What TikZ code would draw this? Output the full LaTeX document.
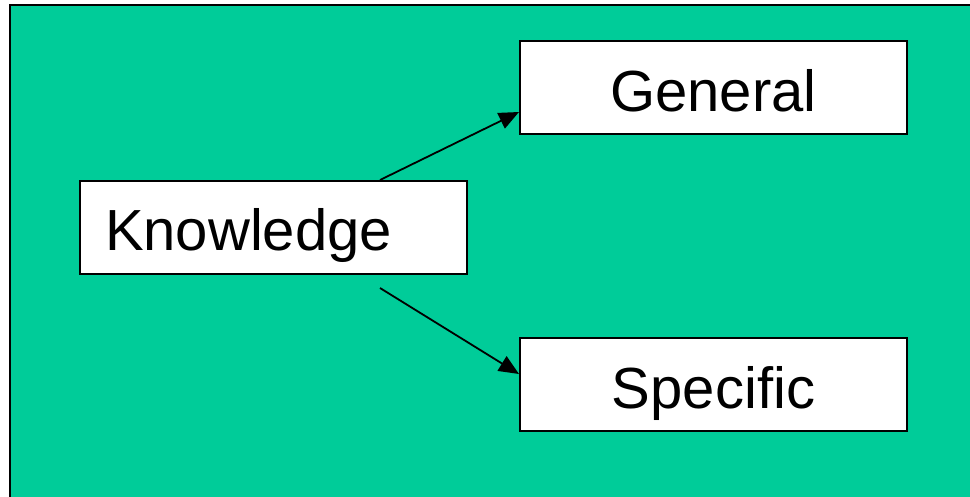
\documentclass[tikz,border=0pt]{standalone}
\usepackage{fontspec}
\setmainfont{Liberation Sans}
\usetikzlibrary{arrows.meta,calc}
\definecolor{panelgreen}{RGB}{0,204,153}
\tikzset{
  box/.style={draw=black, line width=2pt, fill=white,
    font=\fontsize{58pt}{60pt}\selectfont, inner sep=0pt,
    text height=71pt, text depth=22pt},
  centerbox/.style={box, minimum width=387pt},
  leftbox/.style={box, text width=337pt, inner xsep=25pt, align=left,
    text height=69pt, text depth=24pt},
  arr/.style={line width=1.8pt, -{Triangle[length=20pt, width=17pt]}}
}
\begin{document}
\begin{tikzpicture}[x=1pt, y=-1pt]
  \useasboundingbox (0,0) rectangle (970,496);
  % green panel running off the right and bottom edges
  \begin{scope}
    \clip (0,0) rectangle (970,496);
    \draw[line width=2pt, fill=panelgreen] (10,5) rectangle (990,520);
  \end{scope}
  \node[leftbox] (k) at (273.5,227.5) {Knowledge};
  \node[centerbox] (g) at (713.5,87) {General};
  \node[centerbox] (s) at (713.5,384) {Specific};
  \draw[arr] ([xshift=106.5pt]k.north) -- ([yshift=-25pt]g.west);
  \draw[arr] ([xshift=106.5pt, yshift=-13pt]k.south) -- ([yshift=10pt]s.west);
\end{tikzpicture}
\end{document}
